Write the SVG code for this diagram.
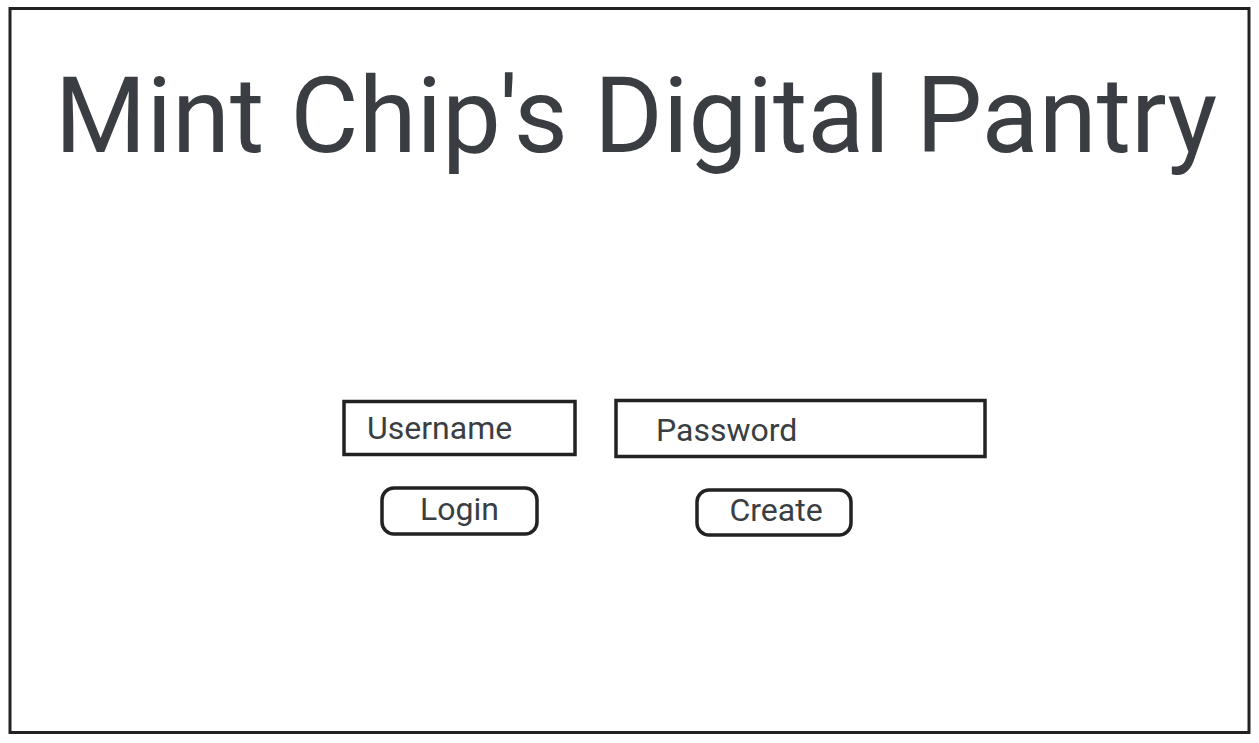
<svg xmlns="http://www.w3.org/2000/svg" width="1259" height="743" viewBox="0 0 1259 743">
<style>
.frame{fill:#fff;stroke:#222;stroke-width:3}
.box{fill:#fff;stroke:#222;stroke-width:3.5}
.t{font-family:Roboto,"Liberation Sans",sans-serif;fill:#3a3e42}
</style>
<rect x="0" y="0" width="1259" height="743" fill="#fff"/>
<g id="frame"><rect class="frame" x="10" y="8.5" width="1239" height="724"/></g>
<g id="title"><text class="t" x="636" y="152" font-size="105" text-anchor="middle">Mint Chip's Digital Pantry</text></g>
<g id="username"><rect class="box" x="344" y="401.5" width="231" height="53"/><text class="t" x="367" y="439" font-size="32">Username</text></g>
<g id="password"><rect class="box" x="616" y="400.5" width="369" height="56"/><text class="t" x="656" y="441" font-size="32">Password</text></g>
<g id="login"><rect class="box" x="382" y="488" width="155" height="46" rx="12"/><text class="t" x="459.5" y="520" font-size="32" text-anchor="middle">Login</text></g>
<g id="create"><rect class="box" x="697" y="490" width="154" height="45" rx="12"/><text class="t" x="776" y="521" font-size="32" text-anchor="middle">Create</text></g>
<g id="connectors"></g>
</svg>
